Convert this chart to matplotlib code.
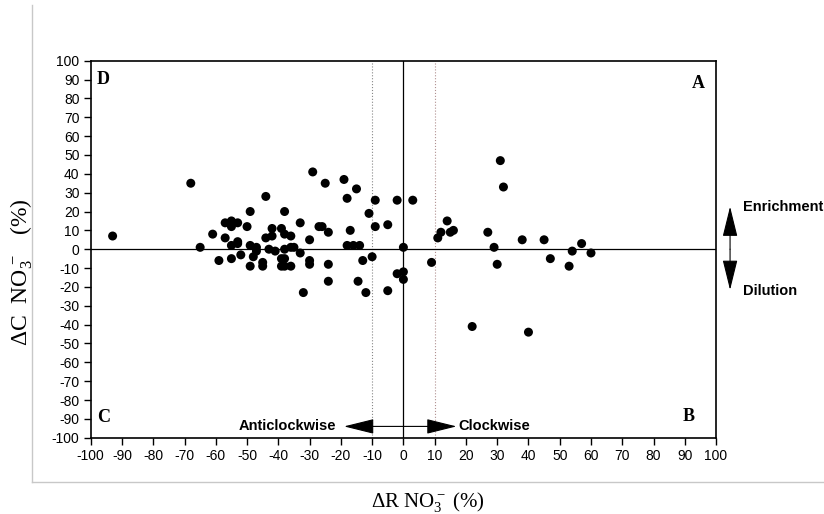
import matplotlib
matplotlib.use('Agg')
import matplotlib.pyplot as plt
from matplotlib.lines import Line2D

plt.rcParams['mathtext.fontset'] = 'custom'
plt.rcParams['mathtext.rm'] = 'Liberation Serif'
plt.rcParams['mathtext.it'] = 'Liberation Serif:italic'
plt.rcParams['axes.unicode_minus'] = False

# delta R (%) and delta C (%) of NO3- for each event
dR = [-93, -68, -65, -61, -59, -57, -57, -55, -55, -55, -55, -53, -53, -53, -52,
      -50, -49, -49, -49, -47, -47, -48, -45, -45, -44, -44, -43, -42, -42, -41,
      -39, -38, -38, -38, -39, -38, -39, -38, -36, -36, -35, -36, -33, -33, -30,
      -30, -30, -29, -27, -26, -25, -24, -24, -24, -32, -19, -18, -17, -15, -18,
      -16, -14, -14.5, -11, -9, -9, -5, -2, 3, 0, -13, -10, -12, -5, -2, 0, 0,
      9, 11, 12, 14, 15, 16, 27, 29, 30, 31, 32, 38, 45, 47, 53, 54, 57, 60,
      22, 40]
dC = [7, 35, 1, 8, -6, 14, 6, 15, 12, 2, -5, 14, 4, 3, -3,
      12, 20, 2, -9, 1, -1, -4, -7, -9, 28, 6, 0, 11, 7, -1,
      11, 20, 8, 0, -5, -5, -9, -9, 7, 1, 1, -9, -2, 14, 5,
      -6, -8, 41, 12, 12, 35, 9, -8, -17, -23, 37, 27, 10, 32, 2,
      2, 2, -17, 19, 26, 12, 13, 26, 26, 1, -6, -4, -23, -22, -13, -12, -16,
      -7, 6, 9, 15, 9, 10, 9, 1, -8, 47, 33, 5, 5, -5, -9, -1, 3, -2,
      -41, -44]

ticks = list(range(-100, 101, 10))

fig = plt.figure(figsize=(8.24, 5.14), dpi=100)
ax = fig.add_axes([0.1101, 0.1484, 0.7589, 0.7335])

ax.axvline(-10, color='#888888', lw=0.8, ls=':', zorder=1)
ax.axvline(10, color='#b09090', lw=0.8, ls=':', zorder=1)
ax.axvline(0, color='black', lw=0.9, zorder=1)
ax.axhline(0, color='black', lw=0.9, zorder=1)

ax.scatter(dR, dC, s=42, color='black', edgecolors='none', zorder=3)

ax.set_xlim(-100, 100)
ax.set_ylim(-100, 100)
ax.set_xticks(ticks)
ax.set_yticks(ticks)
ax.tick_params(direction='out', length=5, width=1, labelsize=10, pad=3)
for lab in ax.get_xticklabels() + ax.get_yticklabels():
    lab.set_fontfamily('Liberation Sans')
for sp in ax.spines.values():
    sp.set_linewidth(1.2)

# quadrant letters
serif_bold = dict(family='Liberation Serif', fontweight='bold', fontsize=13)
ax.text(96.5, 88, 'A', ha='right', va='center', **serif_bold)
ax.text(93, -88.5, 'B', ha='right', va='center', **serif_bold)
ax.text(-98, 90, 'D', ha='left', va='center', **serif_bold)
ax.text(-98, -89.5, 'C', ha='left', va='center', **serif_bold)

# clockwise / anticlockwise arrows
arr = dict(arrowstyle='-|>,head_length=1.9,head_width=0.47', mutation_scale=10,
           color='black', lw=0.8, shrinkA=0, shrinkB=0)
ax.annotate('', xy=(-19, -94), xytext=(0, -94), arrowprops=arr)
ax.annotate('', xy=(17, -94), xytext=(0, -94), arrowprops=arr)
sans_bold = dict(family='Liberation Sans', fontweight='bold', fontsize=10.5)
ax.text(-21.5, -94, 'Anticlockwise', ha='right', va='center', **sans_bold)
ax.text(17.5, -94, 'Clockwise', ha='left', va='center', **sans_bold)

# enrichment / dilution arrows outside the axes
ax.annotate('', xy=(1.0224, 22.6), xytext=(1.0224, 0), xycoords=('axes fraction', 'data'),
            textcoords=('axes fraction', 'data'), arrowprops=arr, annotation_clip=False)
ax.annotate('', xy=(1.0224, -21.6), xytext=(1.0224, 0), xycoords=('axes fraction', 'data'),
            textcoords=('axes fraction', 'data'), arrowprops=arr, annotation_clip=False)
ax.text(1.0427, 22.5, 'Enrichment', transform=ax.get_yaxis_transform(),
        ha='left', va='center', **sans_bold)
ax.text(1.0427, -22, 'Dilution', transform=ax.get_yaxis_transform(),
        ha='left', va='center', **sans_bold)

# axis titles
fig.text(428 / 824, 1 - 502 / 514, r'$\Delta$R NO$_3^-$ (%)', family='Liberation Serif',
         fontsize=15, ha='center', va='center')
fig.text(22 / 824, 1 - 272 / 514, r'$\Delta$C  NO$_3^{\,-}$   (%)', family='Liberation Serif',
         fontsize=17, ha='center', va='center', rotation=90)

# light grey frame
fig.add_artist(Line2D([32 / 824, 32 / 824], [1 - 5 / 514, 1 - 482 / 514],
                      transform=fig.transFigure, color='#c8c8c8', lw=1))
fig.add_artist(Line2D([32 / 824, 1], [1 - 482 / 514, 1 - 482 / 514],
                      transform=fig.transFigure, color='#c8c8c8', lw=1))

fig.savefig('out.png', dpi=100)
